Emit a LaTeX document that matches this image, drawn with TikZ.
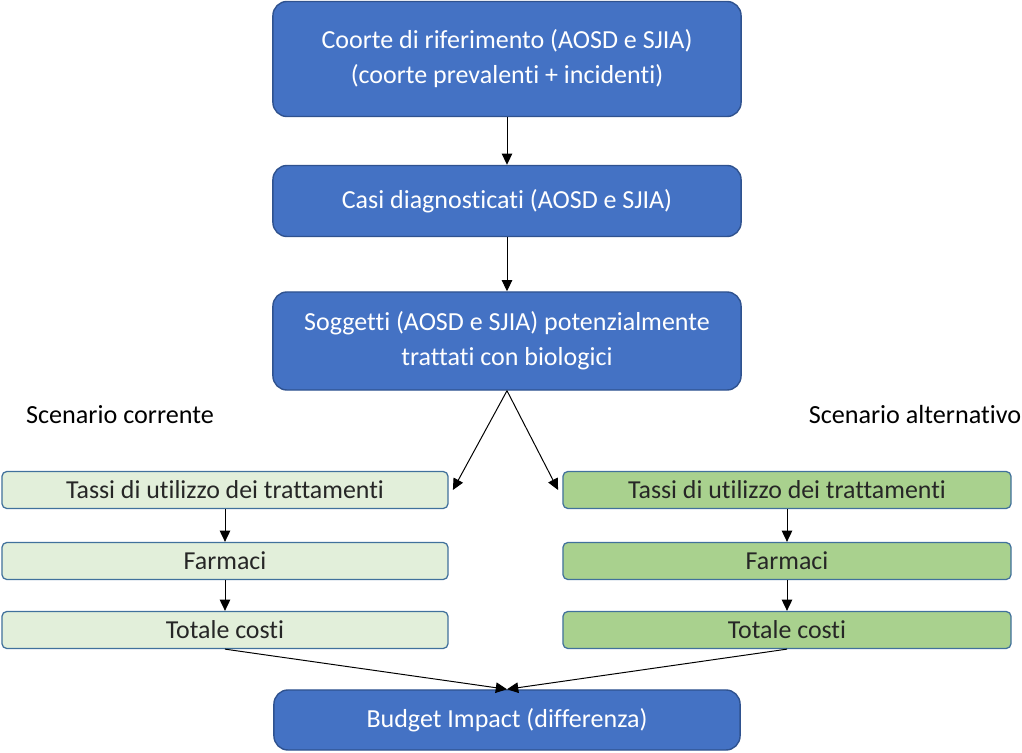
\documentclass[tikz,border=0pt]{standalone}
\usepackage{fontspec}
\setmainfont{Carlito}[Ligatures=NoCommon]
\usetikzlibrary{arrows.meta}
\definecolor{boxblue}{HTML}{4472C4}
\definecolor{edgeblue}{HTML}{2F528F}
\definecolor{paleverde}{HTML}{E2EFDA}
\definecolor{verde}{HTML}{A9D18E}
\definecolor{greenedge}{HTML}{41719C}
\begin{document}
\begin{tikzpicture}[x=0.025cm, y=-0.025cm, line join=round,
    bluebox/.style={draw=edgeblue, fill=boxblue, line width=1pt, rounded corners=10pt,
      minimum width=11.7cm, text=white, align=center,
      font=\fontsize{18.5}{25}\selectfont},
    greenbox/.style={draw=greenedge, line width=0.9pt, rounded corners=3.5pt,
      minimum width=11.15cm, minimum height=0.925cm, text=black!85, inner sep=0pt,
      font=\fontsize{18.4}{22}\selectfont},
    curbox/.style={greenbox, fill=paleverde},
    altbox/.style={greenbox, fill=verde},
    flow/.style={-{Triangle[length=8pt,width=7.5pt]}, line width=0.7pt, black}]
  \useasboundingbox (0,0) rectangle (1022,753);

  % Blocchi principali
  \node[bluebox, minimum height=2.875cm] (coorte) at (507,59)
    {Coorte di riferimento (AOSD e SJIA)\\(coorte prevalenti + incidenti)};
  \node[bluebox, minimum height=1.775cm] (casi) at (507,201)
    {Casi diagnosticati (AOSD e SJIA)};
  \node[bluebox, minimum height=2.45cm] (sogg) at (507,341)
    {Soggetti (AOSD e SJIA) potenzialmente\\trattati con biologici};

  % Etichette degli scenari
  \node[font=\fontsize{18.6}{22}\selectfont] (labC) at (120,415) {Scenario corrente};
  \node[font=\fontsize{18.6}{22}\selectfont] (labA) at (915,415) {Scenario alternativo};

  % Scenario corrente
  \node[curbox] (tassiC) at (225,490) {Tassi di utilizzo dei trattamenti};
  \node[curbox] (farmC) at (225,561) {Farmaci};
  \node[curbox] (totC) at (225,630) {Totale costi};

  % Scenario alternativo
  \node[altbox, minimum width=11.2cm] (tassiA) at (787,490) {Tassi di utilizzo dei trattamenti};
  \node[altbox, minimum width=11.2cm] (farmA) at (787,561) {Farmaci};
  \node[altbox, minimum width=11.2cm] (totA) at (787,630) {Totale costi};

  \node[bluebox, minimum height=1.5cm, minimum width=11.65cm] (budget) at (507,720)
    {Budget Impact (differenza)};

  % Frecce
  \draw[flow] (coorte) -- (casi);
  \draw[flow] (casi) -- (sogg);
  \draw[flow] (sogg.south) -- ([xshift=3pt]tassiC.east);
  \draw[flow] (sogg.south) -- ([xshift=-3pt]tassiA.west);
  \draw[flow] (tassiC) -- (farmC);
  \draw[flow] (farmC) -- (totC);
  \draw[flow] (tassiA) -- (farmA);
  \draw[flow] (farmA) -- (totA);
  \draw[flow] (totC.south) -- (budget.north);
  \draw[flow] (totA.south) -- (budget.north);
\end{tikzpicture}
\end{document}
